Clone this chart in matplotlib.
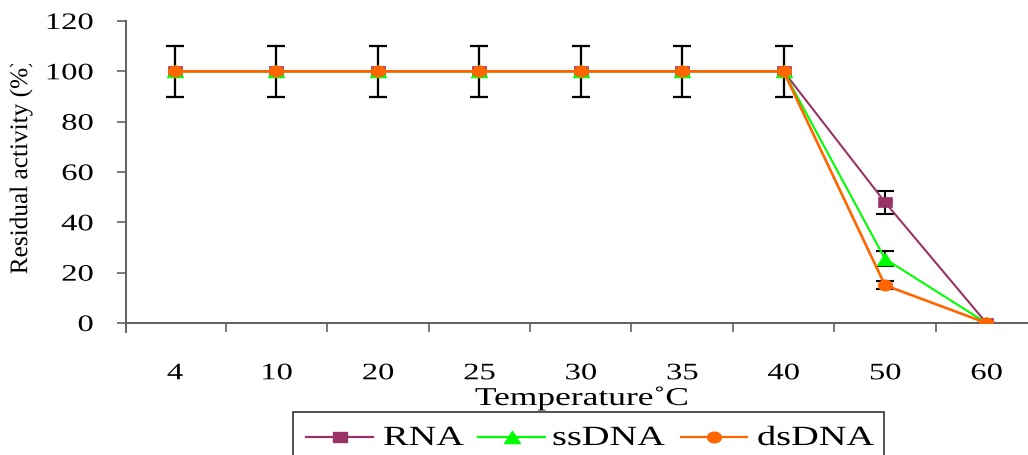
import matplotlib
matplotlib.use('Agg')
import matplotlib.pyplot as plt
import numpy as np
from matplotlib.transforms import Bbox, Affine2D
from matplotlib.patheffects import AbstractPathEffect
from matplotlib.lines import Line2D
from matplotlib.patches import Rectangle

plt.rcParams['font.family'] = ['Liberation Serif', 'DejaVu Serif']

temps = ['4', '10', '20', '25', '30', '35', '40', '50', '60']
rna = [100, 100, 100, 100, 100, 100, 100, 48, 0]
ssdna = [100, 100, 100, 100, 100, 100, 100, 25.5, 0]
dsdna = [100, 100, 100, 100, 100, 100, 100, 15, 0]
rna_err = [10, 10, 10, 10, 10, 10, 10, 4.5, 0]
ssdna_err = [10, 10, 10, 10, 10, 10, 10, 3, 0]
dsdna_err = [10, 10, 10, 10, 10, 10, 10, 1.6, 0]

W, H = 1028, 455
SX = 1.38  # the original text and markers look stretched sideways


class Stretch(AbstractPathEffect):
    # widen the glyphs along the text direction, optional clip box
    def __init__(self, sx=SX, anchor='center', clip=None):
        super().__init__()
        self.sx = sx
        self.anchor = anchor
        self.clip = clip

    def draw_path(self, renderer, gc, tpath, affine, rgbFace=None):
        xs = tpath.vertices[:, 0]
        if len(xs) == 0:
            return
        if self.anchor == 'left':
            cx = xs.min()
        elif self.anchor == 'right':
            cx = xs.max()
        else:
            cx = (xs.min() + xs.max()) / 2
        st = Affine2D().translate(-cx, 0).scale(self.sx, 1).translate(cx, 0)
        gc0 = renderer.new_gc()
        gc0.copy_properties(gc)
        if self.clip is not None:
            gc0.set_clip_rectangle(self.clip)
        renderer.draw_path(gc0, tpath, st + affine, rgbFace)
        gc0.restore()


def wide_marker(kind):
    if kind == 's':
        return [(-1.34, -1), (1.34, -1), (1.34, 1), (-1.34, 1), (-1.34, -1)]
    if kind == '^':
        return [(-1.3, -1), (1.3, -1), (0, 1), (-1.3, -1)]
    t = np.linspace(0, 2 * np.pi, 41)
    return list(zip(1.3 * np.cos(t), np.sin(t)))


def px(x, y):
    return x / W, 1 - y / H


fig = plt.figure(figsize=(W / 100, H / 100), dpi=100)
ax = fig.add_axes([126 / W, 1 - 323 / H, 1 - 126 / W, (323 - 21) / H])

x = np.arange(len(temps))
series = [
    ('RNA', rna, rna_err, '#993366', 's', 10.5, 1.5),
    ('ssDNA', ssdna, ssdna_err, '#00ff00', '^', 12, 1.5),
    ('dsDNA', dsdna, dsdna_err, '#ff6600', 'o', 10.5, 1.9),
]
for name, vals, err, col, mk, ms, lw in series:
    ax.errorbar(x, vals, yerr=err, fmt='none', ecolor='black', elinewidth=1.5,
                capsize=6.8, capthick=1.5, zorder=2)
for name, vals, err, col, mk, ms, lw in series:
    ax.plot(x, vals, color=col, marker=wide_marker(mk), markersize=ms,
            linewidth=lw, markeredgecolor=col, markeredgewidth=0.5,
            label=name, zorder=3)

ax.set_xlim(-0.483, 8.41)
ax.set_ylim(0, 120)
ax.set_yticks(np.arange(0, 121, 20))
ax.set_xticks(x)
ax.set_xticklabels(temps)
ax.set_xticks(np.arange(0.5, 8, 1), minor=True)
ax.tick_params(axis='x', which='major', length=0, pad=29, labelsize=17)
ax.tick_params(axis='x', which='minor', length=6.5, width=1.2, direction='out',
               color='#606060')
ax.tick_params(axis='y', length=6.5, width=1.2, pad=17, labelsize=17,
               color='#606060')
for s in ['top', 'right']:
    ax.spines[s].set_visible(False)
for s in ['left', 'bottom']:
    ax.spines[s].set_color('#606060')
    ax.spines[s].set_linewidth(1.4)
ax.spines['left'].set_bounds(-3.6, 120)

for lab in ax.get_xticklabels():
    lab.set_path_effects([Stretch(anchor='center')])
for lab in ax.get_yticklabels():
    lab.set_path_effects([Stretch(anchor='right')])

# y label, cut at the top as in the original
ylab = fig.text(*px(21, 167), 'Residual activity (%)', rotation=90,
                ha='center', va='center', fontsize=18.2)
ylab.set_path_effects([Stretch(sx=1.0, clip=Bbox.from_extents(0, 0, W, H - 64))])

xlab = fig.text(*px(582, 405), 'Temperature\u02daC', ha='center',
                va='baseline', fontsize=18.5)
xlab.set_path_effects([Stretch(anchor='center')])

# legend box, bottom runs off the figure
frame = Rectangle(px(292.7, 470), (884 - 292.7) / W, (470 - 411.7) / H,
                  transform=fig.transFigure, fill=False, edgecolor='#202020',
                  linewidth=1.1)
fig.add_artist(frame)
handle_x = [(306, 373), (478, 545), (681, 747)]
text_x = [383, 552, 757]
for (name, vals, err, col, mk, ms, lw), (x0, x1), tx in zip(series, handle_x, text_x):
    hx0, hy = px(x0, 436.5)
    hx1, _ = px(x1, 436.5)
    fig.add_artist(Line2D([hx0, hx1], [hy, hy], transform=fig.transFigure,
                          color=col, linewidth=1.6))
    fig.add_artist(Line2D([(hx0 + hx1) / 2], [hy], transform=fig.transFigure,
                          color=col, marker=wide_marker(mk),
                          markersize=ms * 0.95, markeredgecolor=col,
                          linestyle='none'))
    t = fig.text(*px(tx, 445), name, ha='left', va='baseline', fontsize=20)
    t.set_path_effects([Stretch(anchor='left')])

fig.savefig('out.png', dpi=100)
